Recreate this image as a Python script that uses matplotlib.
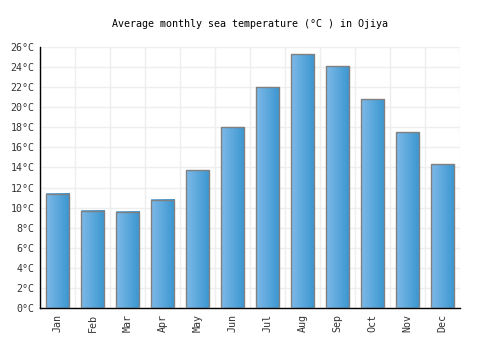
import numpy as np
import matplotlib
matplotlib.use("Agg")
import matplotlib.pyplot as plt
from matplotlib.colors import LinearSegmentedColormap

months = ["Jan", "Feb", "Mar", "Apr", "May", "Jun", "Jul", "Aug", "Sep", "Oct", "Nov", "Dec"]
temps = [11.4, 9.7, 9.6, 10.8, 13.7, 18.0, 22.0, 25.3, 24.1, 20.8, 17.5, 14.3]
yticks = list(range(0, 27, 2))

plt.rcParams["font.family"] = "DejaVu Sans Mono"

fig = plt.figure(figsize=(5, 3.5), dpi=100)
ax = fig.add_axes([0.08, 0.12, 0.84, 0.7457])

cmap = LinearSegmentedColormap.from_list("bar", ["#7db9e8", "#3a96d0"])
grad = np.linspace(0, 1, 64).reshape(1, -1)
width = 0.66
x = np.arange(len(months))
for xi, t in zip(x, temps):
    ax.imshow(grad, cmap=cmap, aspect="auto", zorder=2,
              extent=[xi - width / 2, xi + width / 2, 0, t])
bars = ax.bar(x, temps, width=width, facecolor="none", edgecolor="#808080",
              linewidth=1, zorder=3)

ax.set_xlim(-0.5, len(months) - 0.5)
ax.set_ylim(0, 26)
ax.set_xticks(x)
ax.set_xticklabels(months, rotation=90, fontsize=7.2, color="#333333")
ax.set_yticks(yticks)
ax.set_yticklabels([f"{v}°C" for v in yticks], fontsize=7.2, color="#333333")
ax.set_xticks(np.arange(-0.5, len(months), 1), minor=True)
ax.grid(True, which="minor", axis="x", color="#eeeeee", linewidth=1, zorder=0)
ax.grid(True, which="major", axis="y", color="#eeeeee", linewidth=1, zorder=0)
ax.tick_params(which="both", length=0, pad=4)
for s in ["top", "right"]:
    ax.spines[s].set_visible(False)
for s in ["left", "bottom"]:
    ax.spines[s].set_color("black")
    ax.spines[s].set_linewidth(1)

fig.text(0.5, 1 - 24 / 350, "Average monthly sea temperature (°C ) in Ojiya",
         fontsize=7.2, ha="center", va="center")

fig.savefig("out.png", dpi=100)
